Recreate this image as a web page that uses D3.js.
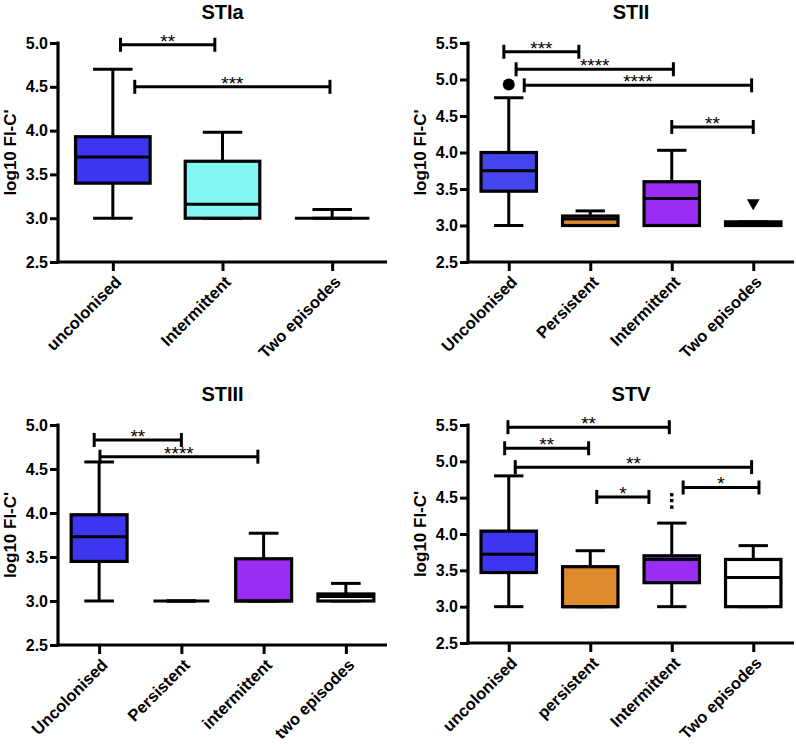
<!DOCTYPE html>
<html>
<head>
<meta charset="utf-8">
<script src="https://cdn.jsdelivr.net/npm/d3@7"></script>
<style>
  body { margin: 0; background: #fff; }
  text { font-family: "Liberation Sans", Arial, sans-serif; }
</style>
</head>
<body>
<div id="container"></div>
<script>
// ---- data: [min, q1, median, q3, max] per group ----
const titleA = "STIa"
const catsA = ["uncolonised", "Intermittent", "Two episodes"]
const statsA = [[3.0, 3.40, 3.70, 3.93, 4.70], [3.0, 3.0, 3.16, 3.65, 3.98], [3.0, 3.0, 3.0, 3.0, 3.10]]
const outA = []
// brackets: [from (category units), to, level, label]
const sigA = [[0.07, 0.93, 4.98, "**"], [0.20, 1.98, 4.50, "***"]]

const titleB = "STII"
const catsB = ["Uncolonised", "Persistent", "Intermittent", "Two episodes"]
const statsB = [[3.0, 3.47, 3.75, 4.00, 4.75], [3.0, 3.0, 3.09, 3.13, 3.20], [3.0, 3.0, 3.37, 3.60, 4.03], [3.0, 3.0, 3.03, 3.05, 3.05]]
const outB = [[0, 4.93, "dot"], [3, 3.31, "tri"]]
const sigB = [[-0.06, 0.86, 5.38, "***"], [0.09, 2.02, 5.14, "****"], [0.19, 2.98, 4.92, "****"], [2.0, 3.0, 4.35, "**"]]

const titleC = "STIII"
const catsC = ["Uncolonised", "Persistent", "intermittent", "two episodes"]
const statsC = [[3.0, 3.45, 3.73, 3.98, 4.58], [3.0, 3.0, 3.0, 3.0, 3.0], [3.0, 3.0, 3.0, 3.48, 3.77], [3.0, 3.0, 3.05, 3.08, 3.20]]
const outC = []
const sigC = [[-0.06, 1.0, 4.83, "**"], [0.01, 1.93, 4.64, "****"]]

const titleD = "STV"
const catsD = ["uncolonised", "persistent", "Intermittent", "Two episodes"]
const statsD = [[3.0, 3.47, 3.72, 4.04, 4.80], [3.0, 3.0, 3.0, 3.55, 3.77], [3.0, 3.33, 3.65, 3.70, 4.15], [3.0, 3.0, 3.40, 3.65, 3.84]]
const outD = [[2, 4.37, "sq"], [2, 4.46, "sq"], [2, 4.54, "sq"]]
const sigD = [[-0.01, 1.97, 5.47, "**"], [-0.05, 0.98, 5.18, "**"], [0.08, 2.98, 4.92, "**"], [1.08, 1.72, 4.51, "*"], [2.14, 3.07, 4.64, "*"]]

const blue = "#3d35f0", cyan = "#82f7f5", orange = "#e08a30", purple = "#9a2cf4"
const fillsA = [blue, cyan, "#fff"]
const fillsB = ["#4545f0", orange, purple, "#000"]
const fillsC = [blue, "#fff", purple, "#fff"]
const fillsD = [blue, orange, purple, "#fff"]

const svg = d3.select("#container").append("svg")
  .attr("width", 796)
  .attr("height", 745)

function drawPanel(p) {
  const g = svg.append("g")
  const y = d3.scaleLinear().domain([2.5, p.ymax]).range([p.bottom, p.top])
  const x = d3.scalePoint().domain(p.cats).range([p.left, p.right]).padding(0.5)
  // same mapping, but in category units (for the brackets)
  const xi = d3.scaleLinear().domain([-0.5, p.cats.length - 0.5]).range([p.left, p.right])
  const step = x.step()
  const boxW = step * 0.68, capW = step * 0.36

  // title
  g.append("text")
    .attr("x", (p.left + p.right) / 2).attr("y", p.top - 24)
    .attr("text-anchor", "middle")
    .style("font-size", "20px").style("font-weight", "bold")
    .text(p.title)

  // y axis
  const ticks = d3.range(2.5, p.ymax + 0.01, 0.5)
  const ya = g.append("g")
    .attr("transform", `translate(${p.left},0)`)
    .call(d3.axisLeft(y).tickValues(ticks).tickFormat(d3.format(".1f")).tickSize(8).tickSizeOuter(0).tickPadding(2))
  ya.select(".domain").attr("stroke-width", 3.2).attr("d", `M0,${p.top - 1.5}V${p.bottom + 1.5}`)
  ya.selectAll(".tick line").attr("stroke-width", 3)
  ya.selectAll(".tick text")
    .style("font-size", "16px").style("font-weight", "bold")
    .style("font-family", "'Liberation Sans', Arial, sans-serif")
    .attr("fill", "#000")

  g.append("text")
    .attr("transform", `translate(${p.left - 42},${(p.top + p.bottom) / 2}) rotate(-90)`)
    .attr("text-anchor", "middle")
    .style("font-size", "17px").style("font-weight", "bold")
    .text("log10 FI-C'")

  // x axis
  const xa = g.append("g")
    .attr("transform", `translate(0,${p.bottom})`)
    .call(d3.axisBottom(x).tickSize(9).tickSizeOuter(0))
  xa.select(".domain").attr("stroke-width", 3.2).attr("d", `M${p.left - 1.5},0H${p.right}`)
  xa.selectAll(".tick line").attr("stroke-width", 3)
  xa.selectAll(".tick text")
    .attr("text-anchor", "end")
    .attr("transform", "translate(9,21) rotate(-45)")
    .attr("dy", "0").attr("y", 0).attr("x", 0)
    .style("font-size", "16.5px").style("font-weight", "bold")
    .style("font-family", "'Liberation Sans', Arial, sans-serif")
    .attr("fill", "#000")

  // boxes
  const boxes = g.selectAll(".box")
    .data(p.stats)
    .enter().append("g")
      .attr("transform", (d, i) => `translate(${x(p.cats[i])},0)`)

  boxes.append("line")
    .attr("y1", d => y(d[0])).attr("y2", d => y(d[4]))
    .attr("stroke", "#000").attr("stroke-width", 3)
  boxes.append("line")
    .attr("x1", -capW / 2).attr("x2", capW / 2)
    .attr("y1", d => y(d[4])).attr("y2", d => y(d[4]))
    .attr("stroke", "#000").attr("stroke-width", 3)
  boxes.append("line")
    .attr("x1", -capW / 2).attr("x2", capW / 2)
    .attr("y1", d => y(d[0])).attr("y2", d => y(d[0]))
    .attr("stroke", "#000").attr("stroke-width", 3)
  boxes.append("rect")
    .attr("x", -boxW / 2).attr("width", boxW)
    .attr("y", d => y(d[3])).attr("height", d => y(d[1]) - y(d[3]))
    .attr("fill", (d, i) => p.fills[i])
    .attr("stroke", "#000").attr("stroke-width", 3.2)
  boxes.append("line")
    .attr("x1", -boxW / 2).attr("x2", boxW / 2)
    .attr("y1", d => y(d[2])).attr("y2", d => y(d[2]))
    .attr("stroke", "#000").attr("stroke-width", 3)

  // outliers
  p.out.forEach(o => {
    const cx = x(p.cats[o[0]]), cy = y(o[1])
    if (o[2] === "dot") {
      g.append("circle").attr("cx", cx).attr("cy", cy).attr("r", 6).attr("fill", "#000")
    } else if (o[2] === "tri") {
      g.append("path").attr("d", d3.symbol(d3.symbolTriangle, 70)())
        .attr("transform", `translate(${cx},${cy}) rotate(180)`).attr("fill", "#000")
    } else {
      g.append("rect").attr("x", cx - 1.7).attr("y", cy - 1.7).attr("width", 3.4).attr("height", 3.4).attr("fill", "#000")
    }
  })

  // significance brackets
  const br = g.selectAll(".sig")
    .data(p.sig)
    .enter().append("g")
  br.append("line")
    .attr("x1", d => xi(d[0])).attr("x2", d => xi(d[1]))
    .attr("y1", d => y(d[2])).attr("y2", d => y(d[2]))
    .attr("stroke", "#000").attr("stroke-width", 3)
  br.append("line")
    .attr("x1", d => xi(d[0])).attr("x2", d => xi(d[0]))
    .attr("y1", d => y(d[2]) - 7).attr("y2", d => y(d[2]) + 7)
    .attr("stroke", "#000").attr("stroke-width", 3)
  br.append("line")
    .attr("x1", d => xi(d[1])).attr("x2", d => xi(d[1]))
    .attr("y1", d => y(d[2]) - 7).attr("y2", d => y(d[2]) + 7)
    .attr("stroke", "#000").attr("stroke-width", 3)
  br.append("text")
    .attr("x", d => (xi(d[0]) + xi(d[1])) / 2)
    .attr("y", d => y(d[2]) + 3)
    .attr("text-anchor", "middle")
    .style("font-size", "19px")
    .text(d => d[3])
}

drawPanel({ title: titleA, cats: catsA, stats: statsA, fills: fillsA, out: outA, sig: sigA, ymax: 5.0, left: 58, right: 387, top: 43, bottom: 262 })
drawPanel({ title: titleB, cats: catsB, stats: statsB, fills: fillsB, out: outB, sig: sigB, ymax: 5.5, left: 468, right: 794, top: 43, bottom: 262 })
drawPanel({ title: titleC, cats: catsC, stats: statsC, fills: fillsC, out: outC, sig: sigC, ymax: 5.0, left: 58, right: 387, top: 425, bottom: 645 })
drawPanel({ title: titleD, cats: catsD, stats: statsD, fills: fillsD, out: outD, sig: sigD, ymax: 5.5, left: 468, right: 794, top: 425, bottom: 643 })
</script>
</body>
</html>
